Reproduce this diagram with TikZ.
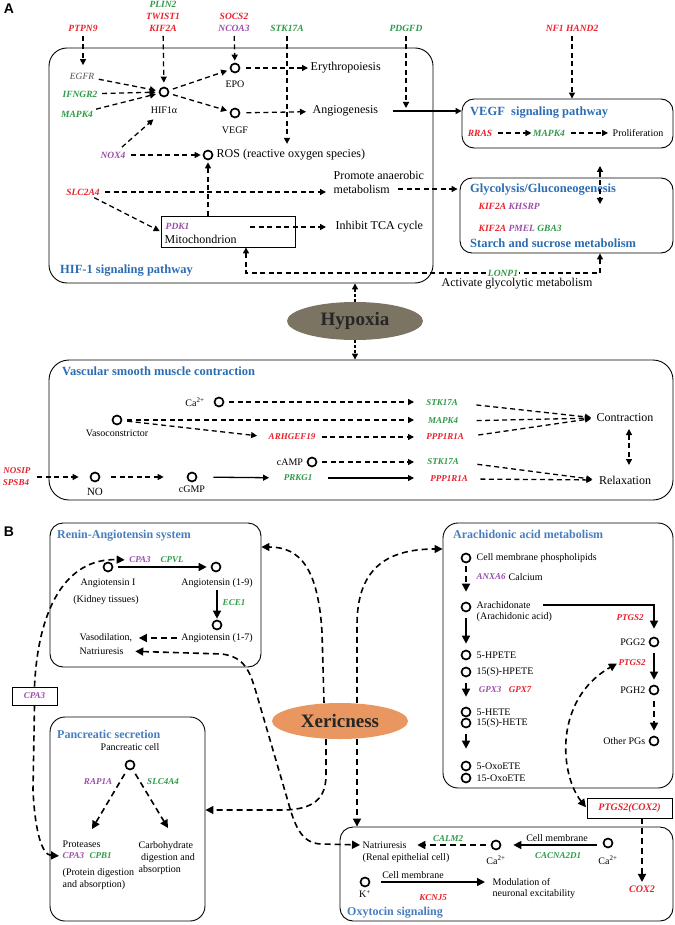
\documentclass[tikz,border=0pt]{standalone}
\usepackage{fontspec}
\setmainfont{Liberation Serif}
\setsansfont{Liberation Sans}
\usetikzlibrary{arrows.meta,shapes.geometric,calc}
\definecolor{gR}{HTML}{E8212B}
\definecolor{gG}{HTML}{2E9A48}
\definecolor{gP}{HTML}{9A4FA8}
\definecolor{tA}{HTML}{2B6CB3}
\definecolor{tB}{HTML}{4A7DBE}
\definecolor{hyp}{HTML}{7B7462}
\definecolor{xer}{HTML}{E99660}
\definecolor{egfrc}{HTML}{505050}
\tikzset{
 gene/.style={font=\fontsize{9.5}{11}\selectfont\bfseries\itshape, inner sep=0.5pt},
 gsm/.style={font=\fontsize{9}{10}\selectfont\bfseries\itshape, inner sep=0.5pt},
 tx/.style={font=\fontsize{12}{13}\selectfont, inner sep=0.5pt},
 ts/.style={font=\fontsize{10}{12}\selectfont, inner sep=0.5pt},
 ttlA/.style={font=\fontsize{12.5}{13}\selectfont\bfseries, text=tA, anchor=west, inner sep=0pt},
 ttlB/.style={font=\fontsize{12}{13}\selectfont\bfseries, text=tB, anchor=west, inner sep=0pt},
 dot/.style={circle, draw, line width=1.7pt, minimum size=9pt, inner sep=0pt, fill=white},
 pbox/.style={draw, rounded corners=16pt, line width=0.9pt, inner sep=0pt},
 da/.style={dash pattern=on 5pt off 3.5pt, line width=1.3pt, -{Triangle[length=6pt,width=6pt]}},
 daa/.style={dash pattern=on 5pt off 3.5pt, line width=1.3pt, {Triangle[length=6pt,width=6pt]}-{Triangle[length=6pt,width=6pt]}},
 dh/.style={dash pattern=on 3pt off 2pt, line width=1.3pt, -{Triangle[length=6pt,width=6pt]}},
 sa/.style={line width=1.3pt, -{Triangle[length=6pt,width=6pt]}},
 db/.style={dash pattern=on 6pt off 4pt, line width=1.6pt, -{Triangle[length=8pt,width=8pt]}},
 dbb/.style={dash pattern=on 6pt off 4pt, line width=1.6pt, {Triangle[length=8pt,width=8pt]}-{Triangle[length=8pt,width=8pt]}},
 sb/.style={line width=1.5pt, -{Triangle[length=8pt,width=8pt]}},
}
\begin{document}
\begin{tikzpicture}[x=1pt,y=-1pt]
\useasboundingbox (0,0) rectangle (674,925);
% ================= PANEL A =================
\node[font=\sffamily\bfseries\fontsize{14}{14}\selectfont] (labA) at (9,9) {A};
\node[pbox, rounded corners=18pt, minimum width=384pt, minimum height=235pt] (hifbox) at (241,165.5) {};
\node[pbox, rounded corners=12pt, minimum width=211pt, minimum height=49pt] (vegfbox) at (567.5,123.5) {};
\node[pbox, rounded corners=12pt, minimum width=213pt, minimum height=75pt] (glybox) at (566.5,215.5) {};
\node[pbox, rounded corners=20pt, minimum width=624pt, minimum height=140pt] (vsmcbox) at (361,430) {};

\node[gene,text=gR] (ptpn9) at (83,28) {PTPN9};
\node[gene,text=gG] (plin2) at (163,4) {PLIN2};
\node[gene,text=gR] (twist1) at (163,16) {TWIST1};
\node[gene,text=gR] (kif2a) at (163,28) {KIF2A};
\node[gene,text=gR] (socs2) at (234,16) {SOCS2};
\node[gene,text=gP] (ncoa3) at (234,28) {NCOA3};
\node[gene,text=gG] (stka) at (287,28) {STK17A};
\node[gene,text=gG] (pdgfd) at (406,28) {PDGFD};
\node[gene,text=gR] (nf1) at (572,28) {NF1 HAND2};

\node[font=\fontsize{9.5}{11}\selectfont\itshape, text=egfrc, inner sep=0.5pt] (egfr) at (82,76) {EGFR};
\node[gene,text=gG] (ifngr2) at (80,94) {IFNGR2};
\node[gene,text=gG] (mapkA) at (77,114) {MAPK4};
\node[dot] (hif) at (164,92) {};
\node[ts] (hifl) at (164,110) {HIF1α};
\node[dot] (epo) at (235,68) {};
\node[ts] (epol) at (235,84) {EPO};
\node[dot] (vegf) at (235,113) {};
\node[ts] (vegfl) at (235,130) {VEGF};
\node[tx, anchor=west] (ery) at (310,68) {Erythropoiesis};
\node[tx, anchor=west] (ang) at (312,111) {Angiogenesis};
\node[gene,text=gP] (nox4) at (113,155) {NOX4};
\node[dot] (ros) at (208,155) {};
\node[tx, anchor=west] (rosl) at (216,155) {ROS (reactive oxygen species)};
\node[gene,text=gR] (slc) at (83,192) {SLC2A4};
\node[tx, anchor=west] (prom1) at (333,175) {Promote anaerobic};
\node[tx, anchor=west] (prom2) at (333,189) {metabolism};
\node[draw, line width=0.9pt, minimum width=134pt, minimum height=31pt, inner sep=0] (mito) at (228,231.5) {};
\node[gene,text=gP, anchor=west] (pdk1) at (165,226) {PDK1};
\node[tx, anchor=west] (mitol) at (164,239) {Mitochondrion};
\node[tx, anchor=west] (tca) at (335,227) {Inhibit TCA cycle};
\node[ttlA] (hift) at (60,271) {HIF-1 signaling pathway};

\node[ttlA] (vegft) at (470,113) {VEGF\enspace signaling pathway};
\node[gene,text=gR] (rras) at (480,133) {RRAS};
\node[gene,text=gG] (mapkV) at (549,133) {MAPK4};
\node[ts] (prolif) at (638,133) {Proliferation};

\node[ttlA] (glyt) at (470,190) {Glycolysis/Gluconeogenesis};
\node[gene, anchor=west] (k1) at (478,206) {\textcolor{gR}{KIF2A} \textcolor{gP}{KHSRP}};
\node[gene, anchor=west] (k2) at (478,228) {\textcolor{gR}{KIF2A} \textcolor{gP}{PMEL} \textcolor{gG}{GBA3}};
\node[ttlA] (start) at (470,243) {Starch and sucrose metabolism};

% connectors A
\draw[da, shorten <=4pt, shorten >=7pt] (ptpn9) -- (ptpn9 |- egfr.north);
\draw[da, shorten <=4pt, shorten >=4pt] (kif2a) -- (hif);
\draw[da, shorten <=4pt, shorten >=2pt] (ncoa3) -- (epo);
\draw[da, shorten <=4pt, shorten >=5pt] (stka) -- (stka |- rosl.north);
\draw[da, shorten <=4pt, shorten >=3pt] (pdgfd) -- (pdgfd |- ang);
\draw[da, shorten <=4pt] (nf1) -- (nf1 |- vegfbox.north);
\draw[sa, shorten <=14pt] (ang) -- (vegfbox.west |- ang);
\draw[da, shorten <=4pt, shorten >=3pt] (egfr) -- (hif);
\draw[da, shorten <=4pt, shorten >=3pt] (ifngr2) -- (hif);
\draw[da, shorten <=4pt, shorten >=3pt] (mapkA) -- (hif);
\draw[da, shorten <=4pt, shorten >=3pt] (hif) -- (epo);
\draw[da, shorten <=4pt, shorten >=3pt] (hif) -- (vegf);
\draw[da, shorten <=6pt, shorten >=2pt] (epo) -- (ery);
\draw[da, shorten <=6pt, shorten >=6pt] (vegf) -- (ang);
\draw[da, shorten <=6pt, shorten >=8pt] (nox4) -- (hifl);
\draw[da, shorten <=5pt, shorten >=2pt] (nox4) -- (ros);
\draw[da, shorten <=5pt, shorten >=7pt] (slc) -- (slc -| prom2.west);
\draw[da, shorten <=4pt, shorten >=1pt] (slc) -- (mito.west);
\coordinate (mitoT) at (208,216);
\draw[da, shorten >=2pt] (mitoT) -- (ros);
\coordinate (mitoR) at (250,227);
\draw[da, shorten >=9pt] (mitoR) -- (tca);
\draw[da, shorten <=8pt, shorten >=2pt] (prom2) -- (glybox.west |- prom2);
\draw[da, shorten <=5pt, shorten >=1pt] (rras) -- (mapkV);
\draw[da, shorten <=5pt, shorten >=4pt] (mapkV) -- (prolif);
\coordinate (lonc) at (503,273);
\draw[daa] ([xshift=18pt]mito.south) |- (lonc) -| ([xshift=33.5pt]glybox.south);
\node[gene,text=gG,fill=white,inner sep=1pt] (lonp1) at (lonc) {LONP1};
\node[tx] (act) at (517,284) {Activate glycolytic metabolism};
\coordinate (dA1) at (600,166);
\coordinate (dA2) at (600,204);
\draw[daa] (dA1) -- (dA2);

\node[ellipse, fill=hyp, minimum width=136pt, minimum height=38pt, inner sep=0, font=\fontsize{19}{20}\selectfont\bfseries, text=black!85] (hyp) at (355,321) {Hypoxia};
\draw[dh] (hyp.north) -- (hyp.north |- hifbox.south);
\draw[dh] (hyp.south) -- (hyp.south |- vsmcbox.north);

% VSMC
\node[ttlA] (vsmct) at (62,371) {Vascular smooth muscle contraction};
\node[ts] (ca1l) at (195,402) {Ca\textsuperscript{2+}};
\node[dot] (ca1) at (219,402) {};
\node[gsm,text=gG] (stkv1) at (442,403) {STK17A};
\node[dot] (vaso) at (117,420) {};
\node[ts] (vasol) at (117,433) {Vasoconstrictor};
\node[gsm,text=gG] (mapkv) at (443,421) {MAPK4};
\node[gsm,text=gR] (arh) at (292,437) {ARHGEF19};
\node[gsm,text=gR] (ppp1) at (445,437) {PPP1R1A};
\node[ts] (campl) at (290,462) {cAMP};
\node[dot] (camp) at (312,462) {};
\node[gsm,text=gG] (stkv2) at (443,462) {STK17A};
\node[gsm,text=gR] (nosip) at (17,471) {NOSIP};
\node[gsm,text=gR] (spsb4) at (16,483) {SPSB4};
\node[dot] (no) at (95,477) {};
\node[font=\fontsize{11}{12}\selectfont, inner sep=0.5pt] (nol) at (95,492) {NO};
\node[dot] (cgmp) at (192,477) {};
\node[ts] (cgmpl) at (192,489) {cGMP};
\node[gsm,text=gG] (prkg1) at (298,478) {PRKG1};
\node[gsm,text=gR] (ppp2) at (449,479) {PPP1R1A};
\node[tx] (contr) at (625,418) {Contraction};
\node[tx] (relax) at (625,480) {Relaxation};

\coordinate (vx) at (414,0);
\draw[da, shorten <=5pt] (ca1) -- (ca1 -| vx);
\draw[da, shorten <=5pt] (vaso) -- (vaso -| vx);
\draw[da, shorten <=5pt, shorten >=11pt] (vaso) -- (arh.west);
\draw[da, shorten <=6pt] (arh) -- (arh -| vx);
\draw[da, shorten <=5pt] (camp) -- (camp -| vx);
\coordinate (nosipR) at (37,477);
\draw[da, shorten >=11pt] (nosipR) -- (no);
\draw[da, shorten <=11pt, shorten >=23pt] (no) -- (cgmp);
\draw[sa, shorten <=16pt, shorten >=14pt] (cgmp) -- (prkg1);
\draw[sa, shorten <=15pt] (prkg1) -- (prkg1 -| vx);
\draw[da, shorten <=18pt, shorten >=5pt] (stkv1.east) -- (contr.west);
\draw[da, shorten <=18pt, shorten >=5pt] (mapkv.east) -- (contr.west);
\draw[da, shorten <=14pt, shorten >=5pt] (ppp1.east) -- (contr.west);
\draw[da, shorten <=18pt, shorten >=6pt] (stkv2.east) -- (relax.west);
\draw[da, shorten <=12pt, shorten >=6pt] (ppp2.east) -- (relax.west);
\coordinate (cr1) at (629,429);
\coordinate (cr2) at (629,465);
\draw[daa] (cr1) -- (cr2);

% ================= PANEL B =================
\node[font=\sffamily\bfseries\fontsize{14}{14}\selectfont] (labB) at (9,532) {B};
\node[pbox, rounded corners=13pt, minimum width=211pt, minimum height=144pt] (rasbox) at (155.5,595) {};
\node[pbox, rounded corners=15pt, minimum width=230pt, minimum height=265pt] (arabox) at (558,655.5) {};
\node[pbox, rounded corners=15pt, minimum width=155pt, minimum height=204pt] (pancbox) at (127.5,819) {};
\node[pbox, rounded corners=13pt, minimum width=333pt, minimum height=94pt] (oxybox) at (506.5,874) {};
\node[ellipse, fill=xer, minimum width=136pt, minimum height=36pt, inner sep=0, font=\fontsize{19}{20}\selectfont\bfseries, text=black!85] (xer) at (340,721) {Xericness};

% RAS
\node[ttlB] (rast) at (57,536) {Renin-Angiotensin system};
\node[dot] (angI) at (108,567) {};
\node[ts] (angIl) at (108,583) {Angiotensin I};
\node[ts] (kid) at (106,600) {(Kidney tissues)};
\node[dot] (ang19) at (216,567) {};
\node[ts] (ang19l) at (217,583) {Angiotensin (1-9)};
\node[gsm,text=gP] (cpa3a) at (140,560) {CPA3};
\node[gsm,text=gG] (cpvl) at (172,560) {CPVL};
\node[gsm,text=gG] (ece1) at (234,603) {ECE1};
\node[dot] (ang17) at (217,625) {};
\node[ts] (ang17l) at (217,638) {Angiotensin (1-7)};
\node[ts, anchor=west] (vaso2) at (79,638) {Vasodilation,};
\node[ts, anchor=west] (natr1) at (79,651) {Natriuresis};
\draw[sb, shorten <=5pt, shorten >=4pt] (angI) -- (ang19);
\draw[sb, shorten <=2pt, shorten >=1pt] (ang19l) -- (ang17);
\draw[db, shorten <=4pt, shorten >=6pt] (ang17l.west) -- (vaso2.east);

% Pancreatic
\node[ttlB] (panct) at (57,734) {Pancreatic secretion};
\node[ts] (pcell) at (130,747) {Pancreatic cell};
\node[dot] (pc) at (130,765) {};
\node[gsm,text=gP] (rap1a) at (98,782) {RAP1A};
\node[gsm,text=gG] (slc4) at (163,782) {SLC4A4};
\node[ts, anchor=west] (prot) at (62,844) {Proteases};
\node[gsm,text=gP, anchor=west] (cpa3c) at (62,856) {CPA3};
\node[gsm,text=gG, anchor=west] (cpb1) at (89,856) {CPB1};
\node[ts, anchor=west, align=left] (protd) at (62,879) {(Protein digestion\\and absorption)};
\node[ts, anchor=west, align=left] (carb) at (138,858) {Carbohydrate\\\ digestion and\\absorption};
\coordinate (pt1) at (92,829);
\coordinate (pt2) at (168,828);
\draw[db, shorten <=5pt] (pc) -- (pt1);
\draw[db, shorten <=5pt] (pc) -- (pt2);

% CPA3 box
\node[draw, line width=0.9pt, minimum width=45pt, minimum height=18pt, gsm, inner sep=0pt, text=gP] (cpa3b) at (34.5,696) {CPA3};
\draw[db, shorten >=4pt] (cpa3b.north) .. controls (38,610) and (65,558) .. (cpa3a.west);
\draw[db, shorten >=3pt] (cpa3b.south) -- (33,790) .. controls (35,832) and (42,855) .. (cpa3c.west);

% Arachidonic
\node[ttlB] (arat) at (453,534) {Arachidonic acid metabolism};
\node[dot] (a1) at (466,558) {};
\node[ts,anchor=west] (a1l) at (476,558) {Cell membrane phospholipids};
\node[gsm,text=gP,anchor=west] (anx) at (476,577) {ANXA6};
\node[ts,anchor=west] (calc) at (508,577) {Calcium};
\node[dot] (a2) at (466,607) {};
\node[ts,anchor=west] (a2l) at (476,605) {Arachidonate};
\node[ts,anchor=west] (a2l2) at (476,617) {(Arachidonic acid)};
\node[dot] (a3) at (466,655) {};
\node[ts,anchor=west] (a3l) at (476,655) {5-HPETE};
\node[dot] (a4) at (466,672) {};
\node[ts,anchor=west] (a4l) at (476,672) {15(S)-HPETE};
\node[gsm,text=gP] (gpx3) at (490,690) {GPX3};
\node[gsm,text=gR] (gpx7) at (520,690) {GPX7};
\node[dot] (a5) at (466,712) {};
\node[ts,anchor=west] (a5l) at (476,712) {5-HETE};
\node[dot] (a6) at (466,723) {};
\node[ts,anchor=west] (a6l) at (476,723) {15(S)-HETE};
\node[dot] (a7) at (466,766) {};
\node[ts,anchor=west] (a7l) at (476,766) {5-OxoETE};
\node[dot] (a8) at (466,778) {};
\node[ts,anchor=west] (a8l) at (476,778) {15-OxoETE};
\node[gsm,text=gR] (ptgs2a) at (630,618) {PTGS2};
\node[dot] (pgg2) at (654,642) {};
\node[ts,anchor=east] (pgg2l) at (646,642) {PGG2};
\node[gsm,text=gR] (ptgs2b) at (632,663) {PTGS2};
\node[dot] (pgh2) at (654,690) {};
\node[ts,anchor=east] (pgh2l) at (646,690) {PGH2};
\node[dot] (opg) at (654,741) {};
\node[ts,anchor=east] (opgl) at (646,741) {Other PGs};
\draw[db, shorten <=3pt, shorten >=10pt] (a1) -- (a2);
\draw[sb, shorten <=6pt, shorten >=6pt] (a2) -- (a3);
\draw[sb, shorten <=6pt, shorten >=10pt] (a4) -- (a5);
\draw[sb, shorten <=6pt, shorten >=12pt] (a6) -- (a7);
\draw[sb, shorten <=12pt, shorten >=8pt] (a2l.east) -| (pgg2);
\draw[sb, shorten <=6pt, shorten >=5pt] (pgg2) -- (pgh2);
\draw[db, shorten <=6pt, shorten >=5pt] (pgh2) -- (opg);

\node[draw, line width=0.9pt, minimum width=85pt, minimum height=20pt, inner sep=0pt, font=\fontsize{10}{11}\selectfont\bfseries\itshape, text=gR] (cox2b) at (629.5,808) {PTGS2(COX2)};
\draw[dbb, shorten <=1pt, shorten >=1pt] (cox2b.west) .. controls (560,775) and (553,700) .. (ptgs2b.west);
\node[font=\fontsize{10}{11}\selectfont\bfseries\itshape, text=gR, inner sep=0.5pt] (cox2l) at (642,889) {COX2};
\draw[db, shorten >=3pt] ([xshift=12.5pt]cox2b.south) -- (cox2l);

% Oxytocin
\node[ts,anchor=west] (natr2) at (362,845) {Natriuresis};
\node[ts,anchor=west] (renal) at (362,858) {(Renal epithelial cell)};
\node[dot] (ca2) at (496,845) {};
\node[ts] (ca2l) at (496,860) {Ca\textsuperscript{2+}};
\node[gsm,text=gG] (calm2) at (448,839) {CALM2};
\node[ts] (cm1) at (557,838) {Cell membrane};
\node[gsm,text=gG] (cacna) at (558,856) {CACNA2D1};
\node[dot] (ca3) at (608,843) {};
\node[ts] (ca3l) at (608,860) {Ca\textsuperscript{2+}};
\node[ts] (cm2) at (413,875) {Cell membrane};
\node[dot] (kp) at (365,882) {};
\node[ts] (kpl) at (365,894) {K\textsuperscript{+}};
\node[gsm,text=gR] (kcnj5) at (433,898) {KCNJ5};
\node[ts,anchor=west] (mod1) at (492,882) {Modulation of};
\node[ts,anchor=west] (mod2) at (492,894) {neuronal excitability};
\node[ttlB] (oxyt) at (347,913) {Oxytocin signaling};
\draw[db, shorten <=5pt, shorten >=10pt] (ca2) -- (natr2);
\draw[sb, shorten <=6pt, shorten >=12pt] (ca3.west |- ca2) -- (ca2);
\draw[sb, shorten <=11pt, shorten >=7pt] (kp) -- (mod1.west |- kp);

% Xericness connectors
\draw[db] ([xshift=-16pt]xer.north) -- (322,632) .. controls (318,568) and (300,547) .. ([yshift=48pt]rasbox.east);
\draw[db] ([xshift=17pt]xer.north) -- (357,625) .. controls (357,570) and (385,549) .. ([yshift=106.5pt]arabox.west);
\draw[db] ([xshift=-14pt]xer.south) -- (326,775) .. controls (326,800) and (312,809) .. (285,810) -- ([yshift=9pt]pancbox.east);
\draw[db] ([xshift=17pt]xer.south) -- ([xshift=17pt]xer.south |- oxybox.north);
\draw[dbb, shorten <=11pt, shorten >=2pt] (natr1.east) -- (222,654) .. controls (245,657) and (250,672) .. (256,692) -- (287,798) .. controls (294,823) and (300,844) .. (322,844) -- (natr2.west);
\end{tikzpicture}
\end{document}
